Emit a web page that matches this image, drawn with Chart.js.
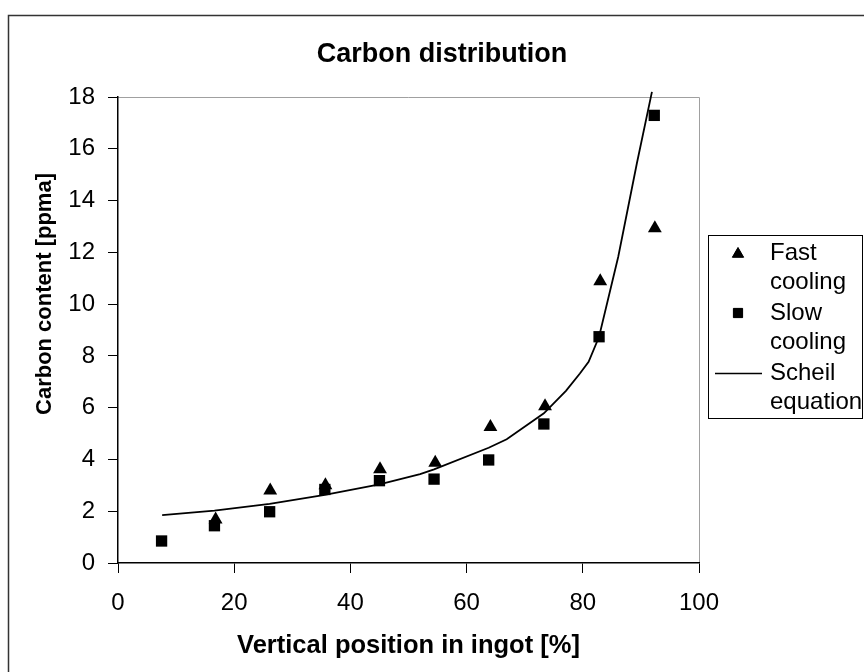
<!DOCTYPE html>
<html>
<head>
<meta charset="utf-8">
<script src="https://cdn.jsdelivr.net/npm/chart.js@4"></script>
<style>
  html, body { margin: 0; padding: 0; background: #fff; }
  #wrap { width: 864px; height: 672px; }
</style>
</head>
<body>
<div id="wrap"><canvas id="carbonChart" width="864" height="672"></canvas></div>
<script>
// values
const fastX = [16.8, 26.2, 35.7, 45.1, 54.6, 64.1, 73.5, 83.0, 92.4];
const fastCooling = [1.68, 2.80, 3.00, 3.62, 3.87, 5.25, 6.05, 10.88, 12.93];
const slowX = [7.5, 16.6, 26.1, 35.6, 45.0, 54.4, 63.8, 73.3, 82.8, 92.3];
const slowCooling = [0.85, 1.44, 1.98, 2.84, 3.18, 3.24, 3.98, 5.37, 8.74, 17.29];
const scheilX = [7.6, 16.6, 26.1, 35.6, 45.0, 52.0, 54.4, 63.8, 66.9, 73.3, 77.1, 79.5, 81.0, 82.8, 86.1, 89.3, 91.9];
const scheilEq = [1.85, 2.02, 2.28, 2.63, 3.04, 3.43, 3.62, 4.45, 4.78, 5.78, 6.65, 7.32, 7.77, 8.74, 11.83, 15.43, 18.2];
const xTicks = [0, 20, 40, 60, 80, 100];
const yTicks = [0, 2, 4, 6, 8, 10, 12, 14, 16, 18];

const FONT = "'Liberation Sans', Arial, sans-serif";

function pts(xs, ys) {
  return xs.map((x, i) => ({ x: x, y: ys[i] }));
}

// frame, chart title, y title and grey top/right edge of the plot
const framePlugin = {
  id: 'frame',
  beforeDraw(chart) {
    const ctx = chart.ctx;
    const a = chart.chartArea;
    ctx.save();
    ctx.fillStyle = '#fff';
    ctx.fillRect(0, 0, chart.width, chart.height);
    ctx.strokeStyle = '#333';
    ctx.lineWidth = 1.5;
    ctx.strokeRect(8.5, 15.5, 900, 700);
    ctx.strokeStyle = '#a0a0a0';
    ctx.lineWidth = 1;
    ctx.beginPath();
    ctx.moveTo(a.left, a.top + 0.5);
    ctx.lineTo(a.right + 0.5, a.top + 0.5);
    ctx.lineTo(a.right + 0.5, a.bottom);
    ctx.stroke();

    ctx.fillStyle = '#000';
    ctx.textAlign = 'center';
    ctx.textBaseline = 'middle';
    ctx.font = 'bold 27px ' + FONT;
    ctx.fillText('Carbon distribution', 442, 55);

    ctx.translate(45, 294);
    ctx.rotate(-Math.PI / 2);
    ctx.font = 'bold 22px ' + FONT;
    ctx.fillText('Carbon content [ppma]', 0, 0);
    ctx.restore();
  }
};

// legend with wrapped labels, like the original
const legendPlugin = {
  id: 'boxLegend',
  afterDraw(chart) {
    const ctx = chart.ctx;
    ctx.save();
    ctx.fillStyle = '#fff';
    ctx.fillRect(708.5, 235.5, 154, 183);
    ctx.strokeStyle = '#000';
    ctx.lineWidth = 1;
    ctx.strokeRect(708.5, 235.5, 154, 183);

    ctx.fillStyle = '#000';
    Chart.helpers.drawPoint(ctx, { pointStyle: 'triangle', radius: 6.5, borderWidth: 1 }, 738, 254);
    ctx.fill();
    Chart.helpers.drawPoint(ctx, { pointStyle: 'rect', radius: 6.5, borderWidth: 1 }, 738, 313);
    ctx.fill();
    ctx.beginPath();
    ctx.moveTo(715, 373.5);
    ctx.lineTo(762, 373.5);
    ctx.lineWidth = 1.5;
    ctx.stroke();

    ctx.font = '24px ' + FONT;
    ctx.textBaseline = 'middle';
    ctx.textAlign = 'left';
    const lines = [['Fast', 253], ['cooling', 282], ['Slow', 313], ['cooling', 342], ['Scheil', 373], ['equation', 402]];
    lines.forEach(l => ctx.fillText(l[0], 770, l[1]));
    ctx.restore();
  }
};

const ctx = document.getElementById('carbonChart').getContext('2d');
new Chart(ctx, {
  type: 'scatter',
  data: {
    datasets: [{
      label: 'Fast cooling',
      data: pts(fastX, fastCooling),
      pointStyle: 'triangle',
      pointRadius: 8,
      backgroundColor: '#000',
      borderColor: '#000',
      borderWidth: 0
    }, {
      label: 'Slow cooling',
      data: pts(slowX, slowCooling),
      pointStyle: 'rect',
      pointRadius: 8,
      backgroundColor: '#000',
      borderColor: '#000',
      borderWidth: 0
    }, {
      label: 'Scheil equation',
      data: pts(scheilX, scheilEq),
      showLine: true,
      pointRadius: 0,
      borderColor: '#000',
      borderWidth: 1.8,
      tension: 0,
      clip: false
    }]
  },
  options: {
    responsive: false,
    animation: false,
    events: [],
    layout: { padding: { left: 20, right: 165, top: 97, bottom: 0 } },
    plugins: {
      legend: { display: false },
      tooltip: { enabled: false },
      title: { display: false }
    },
    scales: {
      x: {
        type: 'linear',
        min: 0,
        max: 100,
        afterBuildTicks(s) { s.ticks = xTicks.map(v => ({ value: v })); },
        afterFit(s) { s.height = 109; },
        ticks: { color: '#000', font: { family: FONT, size: 24 }, padding: 16 },
        grid: { drawOnChartArea: false, drawTicks: true, tickLength: 10, color: '#000', tickWidth: 1 },
        border: { color: '#000', width: 1.5 },
        title: {
          display: true,
          text: 'Vertical position in ingot [%]',
          color: '#000',
          font: { family: FONT, size: 25.5, weight: 'bold', lineHeight: 1.2 },
          padding: { top: 0, bottom: 11 }
        }
      },
      y: {
        type: 'linear',
        min: 0,
        max: 18,
        afterBuildTicks(s) { s.ticks = yTicks.map(v => ({ value: v })); },
        afterFit(s) { s.width = 98; },
        ticks: { color: '#000', font: { family: FONT, size: 24 }, padding: 13 },
        grid: { drawOnChartArea: false, drawTicks: true, tickLength: 10, color: '#000', tickWidth: 1 },
        border: { color: '#000', width: 1.5 }
      }
    }
  },
  plugins: [framePlugin, legendPlugin]
});
</script>
</body>
</html>
